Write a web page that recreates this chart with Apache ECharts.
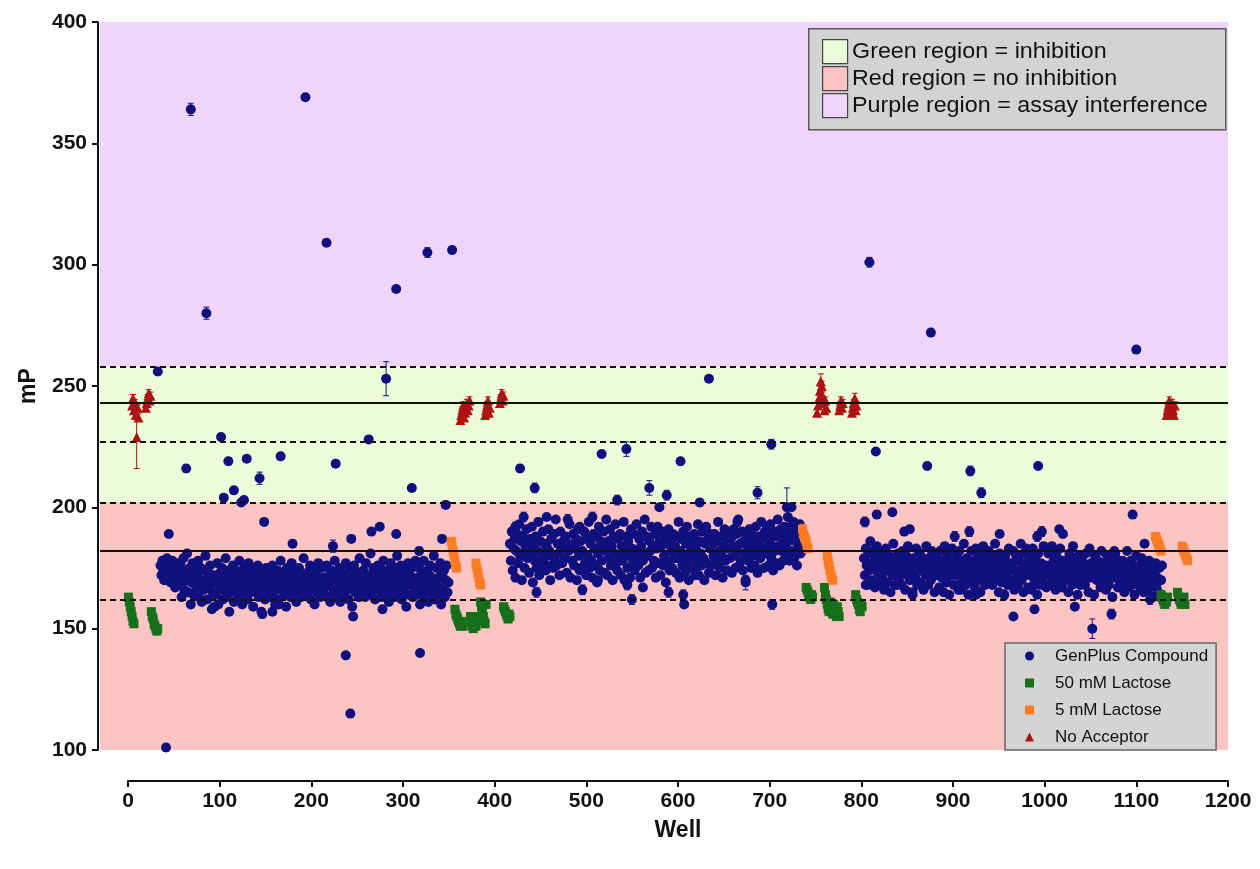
<!DOCTYPE html>
<html>
<head>
<meta charset="utf-8">
<title>mP by well</title>
<script src="https://cdn.jsdelivr.net/npm/echarts@6/dist/echarts.min.js"></script>
<style>
  html, body { margin: 0; padding: 0; background: #fff; }
  #chart { width: 1260px; height: 869px; }
</style>
</head>
<body>
<div id="chart"></div>
<script>
// region limits and threshold lines (mP)
const purpleRegion = [258, 400];
const greenRegion = [202, 258];
const redRegion = [100, 202];
const solidLines = [243, 182];
const dashedLines = [258, 227, 202, 162];

// GenPlus compound cloud, one value per well, by plate
const plate1Start = 36;
const plate1Values = [
  176,172,178,174,170,177,175,179,171,173,176,169,174,178,172,175,167,173,177,171,
  174,168,176,163,171,179,166,173,170,181,165,172,175,160,169,177,164,170,174,167,
  172,178,163,169,175,161,170,166,174,180,168,162,173,167,176,171,158,165,172,169,
  164,170,177,160,168,173,166,175,162,171,167,179,163,170,174,157,168,165,172,176,
  161,169,174,166,171,163,178,167,172,160,170,175,164,168,173,162,177,169,165,171,
  174,159,167,172,165,170,176,163,169,174,157,166,171,168,162,175,170,164,173,167,
  163,171,176,165,169,160,172,167,174,162,170,178,166,168,173,164,171,159,175,169,
  166,172,163,177,168,170,165,174,161,171,167,175,169,163,172,166,179,168,164,170,
  173,165,169,176,162,171,167,174,160,168,172,165,177,170,163,169,175,166,171,164,
  170,176,163,168,172,161,174,167,169,165,178,170,163,172,166,175,161,169,173,167,
  164,171,177,166,169,162,174,168,172,159,170,176,165,171,167,173,163,179,168,170,
  166,174,169,163,177,171,165,172,168,181,164,170,175,167,162,173,169,176,166,171,
  175,163,170,178,167,172,164,169,174,161,171,177,166,173,168,163,175,170,180,165,
  172,167,176,162,170,174,165,171,159,168,177,164,172,169,175,163,170,166,178,168,
  171,164,175,160,169,173,166,178,163,170,167,174,161,172,176,165,171,168,180,162,
  169,175,164,171,167,177,160,172,166,174,163,170,176,165,169
];
const plate2Start = 417;
const plate2Values = [
  185,178,190,174,183,187,171,182,189,177,193,180,186,170,188,181,175,184,191,179,
  183,173,187,180,192,169,184,178,188,175,182,194,172,186,181,177,190,179,185,174,
  184,176,191,182,170,187,180,175,189,178,195,176,185,181,172,190,183,177,186,184,
  179,188,173,185,182,193,171,184,178,189,176,183,187,170,191,180,174,186,175,182,
  181,190,177,172,187,180,194,175,185,178,171,189,183,176,188,169,181,192,174,186,
  178,184,190,173,182,195,172,186,179,191,176,184,170,188,181,193,177,174,187,180,
  189,172,184,178,194,170,182,188,175,186,180,171,191,183,177,189,174,182,193,179,
  176,187,171,184,190,178,181,195,173,188,180,174,186,182,192,175,184,178,189,171,
  183,192,177,186,172,184,190,176,180,188,169,185,178,191,174,186,182,175,189,179,
  184,173,188,179,194,171,182,187,176,190,180,173,185,192,178,170,188,182,175,186,
  180,189,174,184,178,193,172,186,181,176,190,179,170,185,192,177,187,173,183,189,
  176,185,180,189,172,186,178,194,182,175,188,180,171,184,191,178,187,174,183,190,
  179,187,173,184,191,180,175,189,182,195,176,185,178,190,174,186,181,170,188,184,
  178,191,183,175,189,180,186,176,192,182,173,188,184,179,194,181,187,175,190,183,
  181,189,176,186,193,179,184,174,190,182,188,177,195,184,176,191,182,187,178,192,
  184,190,180,196,186,178,192,182,188,194,179,186,191,176,189,184,193,181,188
];
const plate3Start = 803;
const plate3Values = [
  179,172,183,176,168,181,174,186,177,170,182,175,167,179,184,173,177,169,181,175,
  171,179,166,177,183,174,169,180,176,165,178,172,185,175,168,177,173,181,170,179,
  176,168,182,173,178,166,180,172,184,175,170,177,174,164,179,176,171,183,168,177,
  174,181,169,176,179,166,177,172,184,174,168,179,175,170,182,173,177,165,176,172,
  179,173,167,182,175,171,178,165,184,174,169,180,175,164,177,172,183,174,168,177,
  172,180,175,166,182,173,169,178,171,185,175,168,179,173,164,177,170,182,175,171,
  178,167,183,174,170,180,175,165,177,172,184,174,168,180,175,170,182,172,177,174,
  168,180,173,185,170,177,172,165,181,175,169,178,173,164,180,172,176,168,183,174,
  177,170,175,182,166,174,180,172,168,178,174,185,170,176,165,181,172,177,174,167,
  180,172,176,166,183,174,169,178,172,164,181,175,168,177,174,170,184,172,176,167,
  174,181,168,176,172,184,170,178,174,166,180,172,176,169,183,174,167,178,172,176,
  170,178,174,165,181,172,176,168,184,174,170,179,172,164,180,176,168,174,178,171,
  176,168,181,172,174,165,183,171,177,173,176,164,180,174,170,178,172,176,167,182,
  172,177,169,174,166,180,175,168,172,178,174,163,176,171,181,172,175,167,178,170,
  174,168,178,172,165,176,170,182,174,167,172,178,168,176,171,164,174,180,169,173,
  176,167,172,179,170,165,175,169,177,173,166,178,171,168,175,163,173,169,177,167,
  171,165,175,163,170,176
];

// compounds away from the main band: [well, mP, sem]
const compoundOutliers = [
  [33,256,1.5],[42,101,1.5],[45,189,0],[64,216,1.5],[69,364,2.5],[86,280,2.5],
  [95,159,1.5],[102,229,1],[105,204,1],[110,219,1.5],[116,207,1],[124,202,1],
  [127,203,1.5],[130,220,1],[144,212,2.5],[147,156,1.5],[149,194,0],[158,157,1.5],
  [165,160,1],[167,221,1],[180,185,1.5],[194,369,0],[217,309,0],[224,184,2.5],
  [227,218,1],[238,139,0],[243,115,0],[244,187,1.5],[246,155,1.5],[263,228,0],
  [266,190,0],[275,192,0],[278,158,1.5],[282,253,7],[293,290,0],[293,189,0],
  [310,208,0],[318,182,1.5],[319,140,0],[327,305,2],[343,187,1.5],[347,201,1.5],
  [354,306,0],
  [423,192,2],[428,216,1.5],[432,196,2],[444,208,2],[446,165,2],[457,196,0],
  [480,195,2],[493,192,0],[496,166,2],[507,196,2],[513,170,0],[517,222,0],
  [534,203,2],[544,224,3],[545,168,2],[550,162,2],[562,167,0],[569,208,3],
  [580,200,0],[588,205,2],[590,165,2],[603,219,1.5],[606,164,2],[607,160,0],
  [619,172,0],[624,202,1.5],[634,253,1],[665,194,2],[674,169,3],[687,206,2.5],
  [698,192,0],[702,226,2],[703,160,2],[719,200,8],[724,200,0],
  [804,194,2],[805,168,0],[809,301,2],[816,223,0],[817,197,1.5],[834,198,0],
  [839,168,0],[847,190,1.5],[853,191,1.5],[856,165,0],[872,217,1.5],[876,272,0],
  [902,188,2],[909,166,0],[918,190,2],[919,215,2],[925,164,0],[931,206,2],
  [951,189,0],[956,164,2],[966,155,0],[980,183,0],[989,158,1.5],[992,188,2],
  [993,217,0],[997,190,2],[1016,191,1.5],[1020,189,1.5],[1033,159,0],
  [1052,150,4],[1073,156,2],[1076,182,0],[1096,197,0],[1100,265,0],
  [1109,185,0],[1115,162,2]
];

// 50 mM lactose controls: [well, mP, sem]
const lactose50 = [
  [1,163,1.5],[2,161,1.5],[3,159,1.5],[4,157,1.5],[5,155,1.5],[6,153,1.5],[7,152,1.5],
  [26,157,1.5],[27,155,1.5],[28,154,1.5],[29,152,1.5],[30,151,1.5],[31,150,1.5],[32,149,1.5],[33,150,1.5],
  [357,158,1.5],[358,156,1.5],[359,155,1.5],[360,154,1.5],[361,153,1.5],[362,152,1.5],[363,151,1.5],[364,153,1.5],[365,152,1.5],[366,151,1.5],
  [374,155,1.5],[375,153,1.5],[376,151,1.5],[377,150,1.5],[378,152,1.5],[379,154,1.5],[380,151,1.5],[381,153,1.5],
  [383,155,1.5],[385,161,1.5],[386,159,1.5],[387,157,1.5],[388,155,1.5],[389,153,1.5],[390,152,1.5],[391,160,1.5],
  [410,159,1.5],[411,158,1.5],[412,157,1.5],[413,156,1.5],[414,155,1.5],[415,154,1.5],[416,156,1.5],[417,155,1.5],
  [740,167,1.5],[741,166,1.5],[742,165,1.5],[743,164,1.5],[744,163,1.5],[745,162,1.5],[746,164,1.5],[747,163,1.5],
  [760,167,1.5],[761,164,1.5],[762,162,1.5],[763,160,1.5],[764,158,1.5],[765,157,1.5],[766,161,1.5],[767,159,1.5],
  [768,157,1.5],[769,156,1.5],[770,160,1.5],[771,158,1.5],[772,156,1.5],[773,155,1.5],[774,159,1.5],[775,157,1.5],[776,155,1.5],
  [794,164,1.5],[795,162,1.5],[796,161,1.5],[797,160,1.5],[798,158,1.5],[799,157,1.5],[800,160,1.5],[801,159,1.5],
  [1127,164,1.5],[1128,163,1.5],[1129,162,1.5],[1130,161,1.5],[1131,160,1.5],[1132,162,1.5],[1133,161,1.5],[1134,163,1.5],
  [1145,165,1.5],[1146,163,1.5],[1147,162,1.5],[1148,161,1.5],[1149,160,1.5],[1150,162,1.5],[1151,161,1.5],[1152,163,1.5],[1153,160,1.5]
];

// 5 mM lactose controls
const lactose5 = [
  [353,186,1.5],[354,184,1.5],[355,182,1.5],[356,180,1.5],[357,178,1.5],[358,176,1.5],[359,175,1.5],
  [380,177,1.5],[381,175,1.5],[382,173,1.5],[383,171,1.5],[384,169,1.5],[385,168,1.5],
  [736,191,2],[737,189,1.5],[738,188,1.5],[739,187,1.5],[740,186,1.5],[741,184,1.5],[742,183,1.5],
  [763,180,1.5],[764,178,1.5],[765,176,1.5],[766,174,1.5],[767,172,1.5],[768,171,1.5],[769,170,1.5],
  [1121,188,1.5],[1122,187,1.5],[1123,186,1.5],[1124,185,1.5],[1125,184,1.5],[1126,183,1.5],[1127,182,1.5],
  [1150,184,1.5],[1151,183,1.5],[1152,182,1.5],[1153,181,1.5],[1154,180,1.5],[1155,179,1.5],[1156,178,1.5]
];

// no acceptor controls
const noAcceptor = [
  [5,242,1.5],[6,245,1.5],[7,240,1.5],[8,243,1.5],[9,238,1.5],[10,229,13],[11,241,1.5],[12,237,1.5],
  [20,241,1.5],[21,243,1.5],[22,245,1.5],[23,247,1.5],[24,244,1.5],[25,246,1.5],
  [363,236,1.5],[364,238,1.5],[365,240,1.5],[366,242,1.5],[367,237,1.5],[368,239,1.5],
  [369,241,1.5],[370,243,1.5],[371,240,1.5],[372,242,1.5],[373,244,1.5],
  [390,238,1.5],[391,240,1.5],[392,242,1.5],[393,244,1.5],[394,239,1.5],[395,241,1.5],
  [406,243,1.5],[407,245,1.5],[408,247,1.5],[409,244,1.5],[410,246,1.5],
  [752,239,1.5],[753,242,1.5],[754,245,1.5],[755,248,2],[756,252,3],[757,250,2],
  [758,246,1.5],[759,243,1.5],[760,240,1.5],[761,244,1.5],[762,241,1.5],
  [776,240,1.5],[777,242,1.5],[778,244,1.5],[779,241,1.5],[780,243,1.5],
  [790,239,1.5],[791,241,1.5],[792,243,1.5],[793,245,2],[794,240,1.5],[795,242,1.5],
  [1133,238,1.5],[1134,240,1.5],[1135,242,1.5],[1136,244,1.5],[1137,239,1.5],
  [1138,241,1.5],[1139,243,1.5],[1140,240,1.5],[1141,238,1.5],[1142,242,1.5]
];

const legendNames = ['GenPlus Compound', '50 mM Lactose', '5 mM Lactose', 'No Acceptor'];

const NAVY = '#10107e';
const GREEN = '#16701a';
const ORANGE = '#fb7b22';
const RED = '#ae1212';
const FONT = '"Liberation Sans", Arial, sans-serif';

const compoundPoints = []
  .concat(plate1Values.map((v, i) => [plate1Start + i, v, 0]))
  .concat(plate2Values.map((v, i) => [plate2Start + i, v, 0]))
  .concat(plate3Values.map((v, i) => [plate3Start + i, v, 0]))
  .concat(compoundOutliers);

function errorBars(name, points, color) {
  return {
    name: name,
    type: 'custom',
    xAxisIndex: 0,
    yAxisIndex: 0,
    silent: true,
    z: 3,
    data: points.filter(p => p[2] > 0),
    renderItem: function (params, api) {
      const x = api.value(0), y = api.value(1), e = api.value(2);
      const top = api.coord([x, y + e]);
      const bot = api.coord([x, y - e]);
      const st = { stroke: color, lineWidth: 1 };
      return {
        type: 'group',
        children: [
          { type: 'line', shape: { x1: top[0], y1: top[1], x2: bot[0], y2: bot[1] }, style: st },
          { type: 'line', shape: { x1: top[0] - 3, y1: top[1], x2: top[0] + 3, y2: top[1] }, style: st },
          { type: 'line', shape: { x1: bot[0] - 3, y1: bot[1], x2: bot[0] + 3, y2: bot[1] }, style: st }
        ]
      };
    }
  };
}

const chart = echarts.init(document.getElementById('chart'));

const regionLegend = [
  ['Green region = inhibition', '#eafcd8'],
  ['Red region = no inhibition', '#fdc4c4'],
  ['Purple region = assay interference', '#f0d5fb']
];

const graphic = [
  {
    type: 'rect', left: 808, top: 28, z: 100,
    shape: { width: 417, height: 101 },
    style: { fill: '#d3d3d3', stroke: '#5a5a5a', lineWidth: 1.5 }
  }
];
regionLegend.forEach((item, i) => {
  graphic.push({
    type: 'rect', left: 822, top: 39 + i * 27, z: 101,
    shape: { width: 25, height: 24 },
    style: { fill: item[1], stroke: '#444', lineWidth: 1.2 }
  });
  graphic.push({
    type: 'text', x: 852, y: 52 + i * 27, z: 101, scaleX: 1.06,
    style: { text: item[0], fill: '#111', font: '22px ' + FONT, verticalAlign: 'middle' }
  });
});

const option = {
  animation: false,
  backgroundColor: '#ffffff',
  textStyle: { fontFamily: FONT },
  grid: [
    { left: 100, right: 32, top: 22, bottom: 119 },
    { left: 128, right: 32, top: 22, bottom: 119 }
  ],
  xAxis: [
    { type: 'value', gridIndex: 0, min: -30, max: 1200, show: false },
    {
      type: 'value', gridIndex: 1, min: 0, max: 1200, interval: 100,
      position: 'bottom', offset: 31,
      name: 'Well', nameLocation: 'middle', nameGap: 38,
      nameTextStyle: { fontSize: 23, fontWeight: 'bold', color: '#111', fontFamily: FONT },
      axisLine: { onZero: false, lineStyle: { color: '#111', width: 2 } },
      axisTick: { length: 6, lineStyle: { color: '#111', width: 2 } },
      axisLabel: {
        margin: 10, fontSize: 21, fontWeight: 'bold', color: '#111', fontFamily: FONT,
        formatter: v => String(v)
      },
      splitLine: { show: false }
    }
  ],
  yAxis: [
    {
      type: 'value', gridIndex: 0, min: 100, max: 400, interval: 50, offset: 2,
      name: 'mP', nameLocation: 'middle', nameGap: 58, nameRotate: 90,
      nameTextStyle: { fontSize: 23, fontWeight: 'bold', color: '#111', fontFamily: FONT },
      axisLine: { show: true, onZero: false, lineStyle: { color: '#111', width: 2 } },
      axisTick: { show: true, length: 6, lineStyle: { color: '#111', width: 2 } },
      axisLabel: { margin: 11, fontSize: 21, fontWeight: 'bold', color: '#111', fontFamily: FONT },
      splitLine: { show: false }
    },
    { type: 'value', gridIndex: 1, min: 100, max: 400, show: false }
  ],
  legend: {
    data: [
      { name: legendNames[0], icon: 'circle' },
      { name: legendNames[1], icon: 'rect' },
      { name: legendNames[2], icon: 'rect' },
      { name: legendNames[3], icon: 'triangle' }
    ],
    orient: 'vertical',
    left: 1005, top: 643,
    padding: [3, 8, 3, 20],
    itemWidth: 9, itemHeight: 9, itemGap: 7,
    backgroundColor: '#d4d4d4',
    borderColor: '#666',
    borderWidth: 1.5,
    borderRadius: 0,
    selectedMode: false,
    textStyle: { fontSize: 17, lineHeight: 20, color: '#111', fontFamily: FONT, padding: [0, 0, 0, 16] }
  },
  graphic: graphic,
  series: [
    {
      name: 'regions', type: 'scatter', xAxisIndex: 0, yAxisIndex: 0, data: [], z: 0, silent: true,
      markArea: {
        silent: true,
        data: [
          [{ yAxis: purpleRegion[0], itemStyle: { color: '#f0d5fb' } }, { yAxis: purpleRegion[1] }],
          [{ yAxis: greenRegion[0], itemStyle: { color: '#eafcd8' } }, { yAxis: greenRegion[1] }],
          [{ yAxis: redRegion[0], itemStyle: { color: '#fdc4c4' } }, { yAxis: redRegion[1] }]
        ]
      }
    },
    {
      name: 'thresholds', type: 'scatter', xAxisIndex: 0, yAxisIndex: 0, data: [], z: 1, silent: true,
      markLine: {
        silent: true,
        symbol: 'none',
        label: { show: false },
        data: solidLines.map(v => ({ yAxis: v, lineStyle: { color: '#111', width: 2, type: 'solid' } }))
          .concat(dashedLines.map(v => ({ yAxis: v, lineStyle: { color: '#111', width: 2, type: [6, 4] } })))
      }
    },
    {
      name: legendNames[0], type: 'scatter', xAxisIndex: 0, yAxisIndex: 0, z: 2,
      symbol: 'circle', symbolSize: 10, itemStyle: { color: NAVY, opacity: 1 },
      data: compoundPoints
    },
    {
      name: legendNames[1], type: 'scatter', xAxisIndex: 0, yAxisIndex: 0, z: 4,
      symbol: 'rect', symbolSize: 9, itemStyle: { color: GREEN, opacity: 1 },
      data: lactose50
    },
    {
      name: legendNames[2], type: 'scatter', xAxisIndex: 0, yAxisIndex: 0, z: 4,
      symbol: 'rect', symbolSize: 9, itemStyle: { color: ORANGE, opacity: 1 },
      data: lactose5
    },
    {
      name: legendNames[3], type: 'scatter', xAxisIndex: 0, yAxisIndex: 0, z: 4,
      symbol: 'triangle', symbolSize: 10, itemStyle: { color: RED, opacity: 1 },
      data: noAcceptor
    },
    errorBars(legendNames[0], compoundPoints, NAVY),
    errorBars(legendNames[1], lactose50, GREEN),
    errorBars(legendNames[2], lactose5, ORANGE),
    errorBars(legendNames[3], noAcceptor, RED)
  ]
};

chart.setOption(option);
</script>
</body>
</html>
